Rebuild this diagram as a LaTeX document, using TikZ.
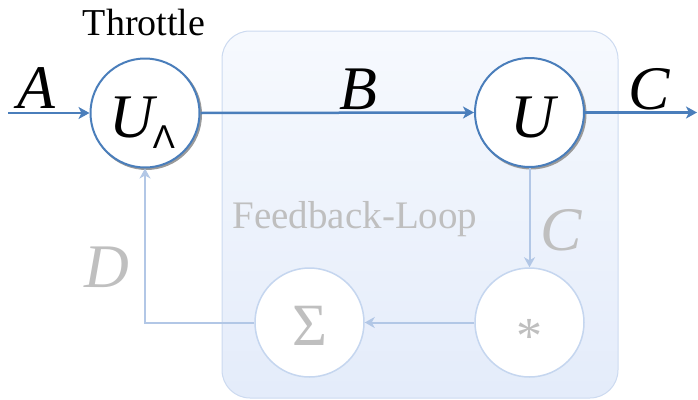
\documentclass[tikz,border=0pt]{standalone}
\usepackage{fontspec}
\setmainfont{Liberation Serif}
\newfontfamily\tnr{Liberation Serif}
\newfontfamily\sansf{Liberation Sans}
\usetikzlibrary{arrows.meta}
\definecolor{mainblue}{HTML}{4A7EBB}
\definecolor{lightblue}{HTML}{B2C7E6}
\definecolor{lightcirc}{HTML}{C5D6EF}
\definecolor{grayt}{HTML}{BFBFBF}
\definecolor{boxtop}{HTML}{F6F9FE}
\definecolor{boxbot}{HTML}{E4ECFA}
\definecolor{boxline}{HTML}{CCDAF0}
\definecolor{shadowc}{HTML}{9A9A9A}
\begin{document}
\begin{tikzpicture}[x=1pt,y=-1pt,
  mainline/.style={draw=mainblue,line width=2.5pt,-{Stealth[length=11pt,width=12pt,inset=3pt]}},
  fbline/.style={draw=lightblue,line width=2pt,-{Stealth[length=10pt,width=11pt,inset=3pt]}},
  maincirc/.style={circle,draw=mainblue,line width=2pt,fill=white,minimum size=109pt,inner sep=0pt},
  lightcircle/.style={circle,draw=lightcirc,line width=1.5pt,fill=white,minimum size=109pt,inner sep=0pt},
  biglabel/.style={font=\fontsize{62}{62}\selectfont\tnr\itshape,inner sep=0pt,anchor=base},
  graylabel/.style={biglabel,text=grayt},
]
\useasboundingbox (0,0) rectangle (698,399);
\node[font=\fontsize{38}{38}\selectfont\tnr,inner sep=0pt,anchor=base] (throttle) at (144,35) {Throttle};
% feedback box with banded gradient
\begin{scope}
  \clip[rounded corners=28pt] (222,31) rectangle (618,398);
  \foreach \i in {0,...,36}{
    \pgfmathtruncatemacro{\p}{round(100*\i/36)}
    \fill[boxbot!\p!boxtop] (222,{31+\i*10}) rectangle (618,{31+\i*10+10.5});
  }
\end{scope}
\draw[boxline,line width=1pt,rounded corners=28pt] (222,31) rectangle (618,398);
% shadows of the dark circles
\fill[shadowc] (146.5,114.5) circle (55.5pt);
\fill[shadowc] (531,114) circle (55.5pt);
% circles
\node[maincirc] (thr) at (145,113) {};
\node[maincirc] (u) at (529.5,112.5) {};
\node[lightcircle] (sig) at (309.5,322.5) {};
\node[lightcircle] (star) at (529.5,322.5) {};
% free ends
\coordinate (ain) at (8,113);
\coordinate (cout) at (697,112.5);
\coordinate (corner) at (145,322.5);
% connectors
\draw[mainline] (ain) -- (thr.west);
\draw[mainline] (thr.east) -- (u.west);
\draw[mainline] (u.east) -- (cout);
\draw[fbline] (u.south) -- (star.north);
\draw[fbline] (star.west) -- (sig.east);
\draw[fbline] (sig.west) -- (corner) -- (thr.south);
% circle contents
\node[biglabel] (ulam) at (132,137) {U};
\node[font=\fontsize{33}{33}\selectfont\sansf,inner sep=0pt,anchor=base] (lam) at (164,148) {Λ};
\node[biglabel] (uu) at (533,137) {U};
\node[font=\fontsize{60}{60}\selectfont\tnr,text=grayt,inner sep=0pt,anchor=base] (sigt) at (310,345) {Σ};
\node[font=\fontsize{52}{52}\selectfont\tnr,text=grayt,inner sep=0pt,anchor=base] (start) at (529.5,353) {*};
% labels
\node[biglabel] (la) at (36,108) {A};
\node[biglabel] (lb) at (358,109) {B};
\node[biglabel] (lc) at (649,109) {C};
\node[graylabel] (lc2) at (561,250) {C};
\node[graylabel] (ld) at (107,287) {D};
\node[font=\fontsize{39}{39}\selectfont\tnr,text=grayt,inner sep=0pt,anchor=base] (fl) at (355,228) {Feedback-Loop};
\end{tikzpicture}
\end{document}
